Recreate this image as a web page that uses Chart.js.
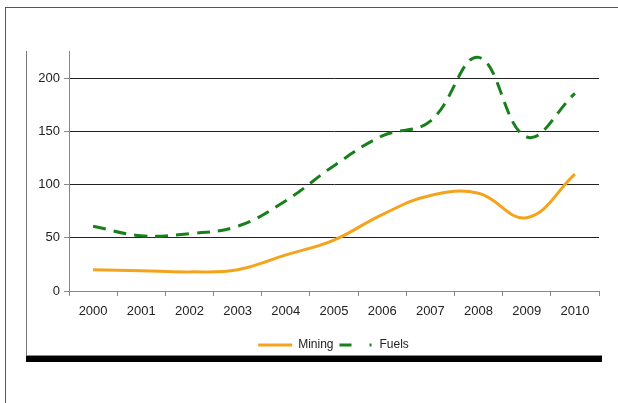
<!DOCTYPE html>
<html>
<head>
<meta charset="utf-8">
<script src="https://cdn.jsdelivr.net/npm/chart.js@4"></script>
<style>
  html, body { margin: 0; padding: 0; background: #fff; overflow: hidden; }
  body { width: 618px; height: 403px; position: relative; }
  #outer { position: absolute; left: 5px; top: 7px; width: 640px; height: 420px;
           border-left: 1px solid #555; border-top: 1px solid #555; }
  #inner { position: absolute; left: 26px; top: 51px; width: 575px; height: 304px;
           border-left: 1px solid #777; border-bottom: 1px solid #888; }
  #shadow { position: absolute; left: 26px; top: 356px; width: 576px; height: 6px; background: #000; }
  #chart { position: absolute; left: 0; top: 0; }
</style>
</head>
<body>
<div id="outer"></div>
<div id="inner"></div>
<div id="shadow"></div>
<canvas id="chart" width="618" height="403"></canvas>
<script>
// 資料
const years = ["2000", "2001", "2002", "2003", "2004", "2005", "2006", "2007", "2008", "2009", "2010"];
const mining = [20, 19, 18, 20, 34, 48, 72, 90, 92, 69, 110];
const fuels = [61, 52, 54, 61, 85, 118, 146, 160, 220, 145, 186];
const yTicks = [0, 50, 100, 150, 200];

const tickFont = { family: "'Liberation Sans', Arial, sans-serif", size: 13 };
const legendFont = { family: "'Liberation Sans', Arial, sans-serif", size: 12 };
const textColor = "#222";

// 圖例往右移一點（原圖圖例不在正中）
const legendShift = {
  id: "legendShift",
  afterLayout(chart) {
    chart.legend.left += 22;
    chart.legend.right += 22;
  },
};

const ctx = document.getElementById("chart").getContext("2d");
const chart = new Chart(ctx, {
  type: "line",
  data: {
    labels: years,
    datasets: [
      {
        label: "Mining",
        data: mining,
        borderColor: "#F5A31C",
        backgroundColor: "#F5A31C",
        borderWidth: 3,
        pointRadius: 0,
        tension: 0.4,
      },
      {
        label: "Fuels",
        data: fuels,
        borderColor: "#17801A",
        backgroundColor: "#17801A",
        borderWidth: 3,
        borderDash: [13, 8],
        pointRadius: 0,
        tension: 0.4,
      },
    ],
  },
  options: {
    responsive: false,
    animation: false,
    devicePixelRatio: 1,
    layout: { padding: { left: 24, top: 51, right: 19, bottom: 42 } },
    scales: {
      x: {
        type: "category",
        offset: true,
        afterFit: (s) => { s.height = 42; },
        grid: { offset: true, drawOnChartArea: false, tickLength: 5, tickColor: "#888" },
        border: { color: "#888", width: 1 },
        ticks: { font: tickFont, color: textColor, padding: 8, maxRotation: 0 },
      },
      y: {
        min: 0,
        max: 226,
        afterFit: (s) => { s.width = 45; },
        afterBuildTicks: (s) => { s.ticks = yTicks.map((v) => ({ value: v })); },
        grid: {
          color: (c) => (c.tick && c.tick.value === 0 ? "#888" : "#222"),
          tickColor: "#888",
          tickLength: 5,
        },
        border: { color: "#888", width: 1 },
        ticks: { font: tickFont, color: textColor, padding: 4 },
      },
    },
    plugins: {
      tooltip: { enabled: false },
      legend: {
        position: "bottom",
        labels: {
          font: legendFont,
          color: textColor,
          padding: 6,
          usePointStyle: true,
          pointStyle: "line",
          pointStyleWidth: 34,
          generateLabels: (c) => {
            const items = Chart.defaults.plugins.legend.labels.generateLabels(c);
            items.forEach((it) => {
              if (it.text === "Fuels") it.lineDash = [12, 18, 2, 20];
            });
            return items;
          },
        },
      },
    },
  },
  plugins: [legendShift],
});
</script>
</body>
</html>
